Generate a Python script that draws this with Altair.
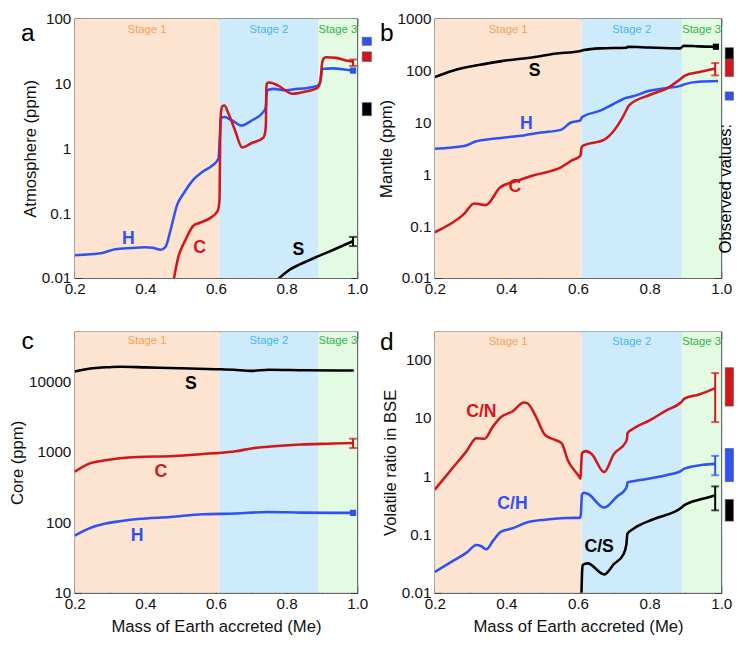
import altair as alt
import pandas as pd

FONT = "Liberation Sans"
RED = "#D2161B"
BLUE = "#2F52F4"
BLACK = "#000000"

# ---------------- shared axis / stage info ----------------
X_TICKS = [0.2, 0.3, 0.4, 0.5, 0.6, 0.7, 0.8, 0.9, 1.0]
STAGE_NAMES = ["Stage 1", "Stage 2", "Stage 3"]
STAGE_X0 = [0.2, 0.61, 0.89]
STAGE_X1 = [0.61, 0.89, 1.0]
STAGE_LABEL_X = [0.405, 0.75, 0.945]
STAGE_FILL = ["#FCE4D0", "#CDEBFA", "#E2FBE2"]
STAGE_TEXT = ["#F4A15E", "#46B6EE", "#35B14B"]

# ---------------- panel a : Atmosphere ----------------
A_MAJOR = [0.01, 0.1, 1, 10, 100]
a_H_x = [0.2, 0.278, 0.315, 0.36, 0.398, 0.421, 0.444, 0.457, 0.471, 0.49, 0.508, 0.536, 0.563, 0.591, 0.607,
         0.611, 0.614, 0.623, 0.646, 0.672, 0.701, 0.733, 0.741, 0.743, 0.746, 0.765, 0.793, 0.821, 0.86, 0.888,
         0.896, 0.901, 0.931, 0.968, 0.988]
a_H_y = [0.0224, 0.0243, 0.0278, 0.029, 0.0298, 0.0292, 0.0272, 0.030, 0.054, 0.134, 0.20, 0.33, 0.44, 0.55, 0.70,
         1.6, 2.9, 3.05, 2.7, 2.25, 2.7, 3.6, 4.3, 6.5, 8.0, 8.3, 7.9, 8.2, 8.6, 9.3,
         11.3, 16.8, 17.2, 16.4, 15.9]
a_C_x = [0.476, 0.494, 0.513, 0.536, 0.554, 0.582, 0.605, 0.610, 0.611, 0.612, 0.614, 0.618, 0.624, 0.635, 0.655,
         0.674, 0.70, 0.734, 0.740, 0.7415, 0.742, 0.7425, 0.744, 0.748, 0.756, 0.775, 0.817, 0.85, 0.886, 0.895,
         0.898, 0.900, 0.905, 0.913, 0.94, 0.968, 0.988]
a_C_y = [0.0069, 0.0217, 0.038, 0.064, 0.071, 0.083, 0.109, 0.16, 0.5, 1.5, 3.5, 4.5, 4.6, 3.5, 1.83,
         1.03, 1.2, 1.46, 1.9, 2.6, 5.0, 8.5, 10.0, 10.4, 10.3, 9.4, 7.0, 7.5, 8.5, 10.5,
         15.0, 20.0, 24.5, 25.5, 25.0, 22.8, 22.0]
a_S_x = [0.775, 0.811, 0.839, 0.89, 0.931, 0.988]
a_S_y = [0.0095, 0.0137, 0.0163, 0.0217, 0.027, 0.037]

# ---------------- panel b : Mantle ----------------
B_MAJOR = [0.01, 0.1, 1, 10, 100, 1000]
b_S_x = [0.2, 0.25, 0.323, 0.387, 0.479, 0.534, 0.607, 0.616, 0.662, 0.735, 0.739, 0.799, 0.886, 0.895, 0.936, 0.985]
b_S_y = [75, 100, 129, 153, 184, 212, 241, 250, 270, 278, 290, 280, 270, 303, 295, 290]
b_H_x = [0.2, 0.282, 0.314, 0.369, 0.451, 0.497, 0.552, 0.579, 0.607, 0.611, 0.662, 0.698, 0.735, 0.753, 0.799,
         0.845, 0.886, 0.899, 0.936, 0.991]
b_H_y = [3.1, 3.5, 4.3, 4.9, 5.7, 6.4, 7.2, 9.9, 11, 12.7, 16.9, 22.5, 30, 32, 41,
         46, 51, 55, 61, 63]
b_C_x = [0.2, 0.282, 0.31, 0.342, 0.383, 0.428, 0.474, 0.552, 0.584, 0.607, 0.609, 0.611, 0.616, 0.672, 0.738,
         0.741, 0.80, 0.85, 0.887, 0.90, 0.936, 0.983]
b_C_y = [0.076, 0.172, 0.274, 0.255, 0.56, 0.74, 0.95, 1.36, 1.87, 2.3, 3.0, 3.4, 3.6, 4.6, 19,
         21, 34, 46, 70, 81, 93, 110]

# ---------------- panel c : Core ----------------
C_MAJOR = [10, 100, 1000, 10000]
c_S_x = [0.2, 0.24, 0.3, 0.33, 0.4, 0.5, 0.6, 0.65, 0.7, 0.75, 0.85, 0.95, 0.99]
c_S_y = [13700, 15000, 15800, 16000, 15700, 15300, 14800, 14500, 14000, 14500, 14300, 14200, 14200]
c_C_x = [0.2, 0.241, 0.287, 0.379, 0.471, 0.563, 0.61, 0.655, 0.701, 0.747, 0.839, 0.931, 0.988]
c_C_y = [521, 679, 755, 840, 865, 931, 961, 1014, 1114, 1175, 1265, 1305, 1334]
c_H_x = [0.2, 0.241, 0.287, 0.333, 0.379, 0.471, 0.563, 0.655, 0.747, 0.839, 0.931, 0.988]
c_H_y = [64.6, 82, 96, 104, 111, 119, 130, 133, 140, 137, 136, 136]

# ---------------- panel d : Volatile ratios ----------------
D_MAJOR = [0.01, 0.1, 1, 10, 100]
d_CN_x = [0.2, 0.252, 0.289, 0.316, 0.339, 0.362, 0.385, 0.417, 0.449, 0.458, 0.481, 0.508, 0.536, 0.554, 0.572,
          0.6, 0.607, 0.609, 0.611, 0.622, 0.638, 0.673, 0.7, 0.734, 0.737, 0.738, 0.755, 0.8, 0.846, 0.887,
          0.897, 0.938, 0.983]
d_CN_y = [0.59, 1.44, 2.7, 4.5, 4.4, 7.1, 10.4, 12.9, 18.4, 18, 11, 5.1, 4.2, 3.7, 1.85,
          1.05, 0.91, 1.6, 2.5, 2.7, 2.4, 1.18, 2.4, 3.9, 4.5, 5.5, 6.6, 9.1, 13.4, 18.4,
          21.4, 25.3, 32.6]
d_CH_x = [0.2, 0.252, 0.289, 0.316, 0.33, 0.344, 0.362, 0.385, 0.417, 0.453, 0.508, 0.572, 0.607, 0.609, 0.611,
          0.616, 0.627, 0.673, 0.709, 0.734, 0.737, 0.738, 0.773, 0.846, 0.889, 0.897, 0.948, 0.983]
d_CH_y = [0.0229, 0.0357, 0.049, 0.066, 0.063, 0.056, 0.077, 0.112, 0.128, 0.158, 0.18, 0.192, 0.195, 0.3, 0.48,
          0.52, 0.50, 0.29, 0.45, 0.62, 0.70, 0.78, 0.86, 1.04, 1.25, 1.35, 1.57, 1.63]
d_CS_x = [0.608, 0.610, 0.611, 0.613, 0.627, 0.673, 0.70, 0.727, 0.735, 0.738, 0.755, 0.812, 0.889, 0.897, 0.948,
          0.983]
d_CS_y = [0.0069, 0.012, 0.02, 0.030, 0.032, 0.0207, 0.031, 0.046, 0.068, 0.104, 0.126, 0.185, 0.29, 0.32, 0.41,
          0.469]

X_MAJOR_TEST = "abs(datum.value*5 - round(datum.value*5)) < 1e-6"
Y_MAJOR_TEST = "abs(log(datum.value)/LN10 - round(log(datum.value)/LN10)) < 1e-6"


def minor_ticks(major, top):
    vals = []
    for m in major:
        for k in range(1, 10):
            v = m * k
            if v <= top * 1.0001:
                vals.append(v)
    return vals


def build_panel(width, height, ydom, major, ytitle, xtitle, series, errs, marks, boxes, labels,
                letter, letter_pos, stage_y, rot_text=None):
    xs = alt.Scale(domain=[0.2, 1.0], nice=False, zero=False)
    ys = alt.Scale(type="log", domain=ydom, nice=False)
    yvals = minor_ticks(major, ydom[1])
    xtick = {"condition": {"test": X_MAJOR_TEST, "value": -7}, "value": -4}
    ytick = {"condition": {"test": Y_MAJOR_TEST, "value": -7}, "value": -4}
    xaxis = alt.Axis(values=X_TICKS,
                     labelExpr=X_MAJOR_TEST + " ? format(datum.value, '.1f') : ''",
                     title=xtitle, tickSize=xtick, labelPadding=11, labelFlush=False,
                     labelOverlap=False, titlePadding=4)
    yaxis = alt.Axis(values=yvals,
                     labelExpr=Y_MAJOR_TEST + " ? format(datum.value, '~g') : ''",
                     title=ytitle, tickSize=ytick, labelPadding=11, labelFlush=False,
                     labelOverlap=False, titlePadding=2)
    xaxis_top = alt.Axis(orient="top", values=X_TICKS, labels=False, title="", tickSize=xtick)
    yaxis_right = alt.Axis(orient="right", values=yvals, labels=False, title="", tickSize=ytick)

    def X():
        return alt.X("x:Q", scale=xs, axis=xaxis)

    def Y():
        return alt.Y("y:Q", scale=ys, axis=yaxis)

    bands = pd.DataFrame({"x": STAGE_X0, "x2": STAGE_X1, "fill": STAGE_FILL})
    band_layer = alt.Chart(bands).mark_rect().encode(x=X(), x2="x2:Q", color=alt.Color("fill:N", scale=None))

    stage_df = pd.DataFrame({"x": STAGE_LABEL_X, "y": [stage_y] * 3, "t": STAGE_NAMES, "c": STAGE_TEXT})
    stage_layer = alt.Chart(stage_df).mark_text(font=FONT, fontSize=11.5).encode(
        x=X(), y=Y(), text="t:N", color=alt.Color("c:N", scale=None))

    rows = []
    for sid, (xv, yv, col) in enumerate(series):
        for i, (a, b) in enumerate(zip(xv, yv)):
            rows.append({"x": a, "y": b, "s": sid, "c": col, "i": i})
    line_df = pd.DataFrame(rows)
    line_layer = alt.Chart(line_df).mark_line(strokeWidth=2.6, clip=True, interpolate="monotone").encode(
        x=X(), y=Y(), detail="s:N", order="i:Q", color=alt.Color("c:N", scale=None))

    layers = [band_layer, stage_layer, line_layer]

    if errs:
        err_df = pd.DataFrame([{"x": e[0], "y": e[1], "y2": e[2], "c": e[3]} for e in errs])
        cap_df = pd.DataFrame([{"x": e[0], "y": v, "c": e[3]} for e in errs for v in (e[1], e[2])])
        layers.append(alt.Chart(err_df).mark_rule(strokeWidth=2).encode(
            x=X(), y=Y(), y2="y2:Q", color=alt.Color("c:N", scale=None)))
        layers.append(alt.Chart(cap_df).mark_tick(orient="horizontal", size=8, thickness=2).encode(
            x=X(), y=Y(), color=alt.Color("c:N", scale=None)))
    if marks:
        mk_df = pd.DataFrame([{"x": m[0], "y": m[1], "c": m[2]} for m in marks])
        layers.append(alt.Chart(mk_df).mark_square(size=40, opacity=1).encode(
            x=X(), y=Y(), color=alt.Color("c:N", scale=None)))
    if boxes:
        bx_df = pd.DataFrame([{"x": b[0], "x2": b[1], "y": b[2], "y2": b[3], "c": b[4]} for b in boxes])
        layers.append(alt.Chart(bx_df).mark_rect(stroke="#555555", strokeWidth=0.6).encode(
            x=X(), x2="x2:Q", y=Y(), y2="y2:Q", color=alt.Color("c:N", scale=None)))

    lab_df = pd.DataFrame([{"x": l[0], "y": l[1], "t": l[2], "c": l[3]} for l in labels])
    layers.append(alt.Chart(lab_df).mark_text(font=FONT, fontSize=18, fontWeight="bold").encode(
        x=X(), y=Y(), text="t:N", color=alt.Color("c:N", scale=None)))

    let_df = pd.DataFrame([{"x": letter_pos[0], "y": letter_pos[1], "t": letter}])
    layers.append(alt.Chart(let_df).mark_text(font=FONT, fontSize=25, baseline="alphabetic", color="black").encode(
        x=X(), y=Y(), text="t:N"))

    if rot_text:
        rt_df = pd.DataFrame([{"x": rot_text[0], "y": rot_text[1], "t": rot_text[2]}])
        layers.append(alt.Chart(rt_df).mark_text(font=FONT, fontSize=17, angle=270, color="black").encode(
            x=X(), y=Y(), text="t:N"))

    main = alt.layer(*layers)
    mirror = alt.Chart(stage_df).mark_point(opacity=0).encode(
        x=alt.X("x:Q", scale=xs, axis=xaxis_top), y=alt.Y("y:Q", scale=ys, axis=yaxis_right))
    return alt.layer(main, mirror).resolve_axis(x="independent", y="independent").properties(
        width=width, height=height)


W1, W2 = 288, 292
H_TOP, H_BOT = 264, 266

pa = build_panel(
    W1, H_TOP, [0.01, 100], A_MAJOR, "Atmosphere (ppm)", "",
    [(a_H_x, a_H_y, BLUE), (a_C_x, a_C_y, RED), (a_S_x, a_S_y, BLACK)],
    [(0.988, 18.8, 23.6, RED), (0.988, 0.031, 0.043, BLACK)],
    [(0.988, 15.9, BLUE)],
    [(1.014, 1.040, 39, 52, BLUE), (1.014, 1.040, 22, 31, RED), (1.014, 1.040, 3.2, 5.1, BLACK)],
    [(0.352, 0.040, "H", BLUE), (0.554, 0.0288, "C", RED), (0.833, 0.0266, "S", BLACK)],
    "a", (0.067, 45.6), 68)

pb = build_panel(
    W2, H_TOP, [0.01, 1000], B_MAJOR, "Mantle (ppm)", "",
    [(b_S_x, b_S_y, BLACK), (b_H_x, b_H_y, BLUE), (b_C_x, b_C_y, RED)],
    [(0.983, 81, 141, RED)],
    [(0.985, 290, BLACK)],
    [(1.011, 1.034, 167, 278, BLACK), (1.011, 1.034, 77, 167, RED), (1.011, 1.034, 27, 39, BLUE)],
    [(0.479, 100, "S", BLACK), (0.456, 9.2, "H", BLUE), (0.424, 0.56, "C", RED)],
    "b", (0.066, 375), 617,
    rot_text=(1.013, 0.53, "Observed values:"))

pc = build_panel(
    W1, H_BOT, [10, 50000], C_MAJOR, "Core (ppm)", "Mass of Earth accreted (Me)",
    [(c_S_x, c_S_y, BLACK), (c_C_x, c_C_y, RED), (c_H_x, c_H_y, BLUE)],
    [(0.988, 1130, 1530, RED)],
    [(0.988, 136, BLUE)],
    [],
    [(0.529, 9000, "S", BLACK), (0.444, 521, "C", RED), (0.377, 64.6, "H", BLUE)],
    "c", (0.067, 28400), 36600)

pd_ = build_panel(
    W2, H_BOT, [0.01, 300], D_MAJOR, "Volatile ratio in BSE", "Mass of Earth accreted (Me)",
    [(d_CN_x, d_CN_y, RED), (d_CH_x, d_CH_y, BLUE), (d_CS_x, d_CS_y, BLACK)],
    [(0.983, 8.5, 59, RED), (0.983, 1.04, 2.24, BLUE), (0.983, 0.26, 0.67, BLACK)],
    [],
    [(1.011, 1.034, 16, 73, RED), (1.011, 1.034, 0.81, 3.0, BLUE), (1.011, 1.034, 0.17, 0.40, BLACK)],
    [(0.33, 12.5, "C/N", RED), (0.417, 0.33, "C/H", BLUE), (0.659, 0.061, "C/S", BLACK)],
    "d", (0.066, 147), 199)

chart = alt.concat(pa, pb, pc, pd_, columns=2, spacing={"row": 55, "column": 79}, bounds="flush").properties(
    padding={"left": 0, "top": -3, "right": 0, "bottom": 0}
).configure_view(stroke="#3a3a3a", strokeWidth=1.2).configure_axis(
    labelFont=FONT, titleFont=FONT, labelFontSize=15.5, titleFontSize=17, titleFontWeight="normal",
    labelColor="#111111", titleColor="#111111", grid=False, domain=False, tickColor="#333333", tickWidth=1
)

chart.save("out.html", embed_options={"renderer": "svg", "actions": False})
